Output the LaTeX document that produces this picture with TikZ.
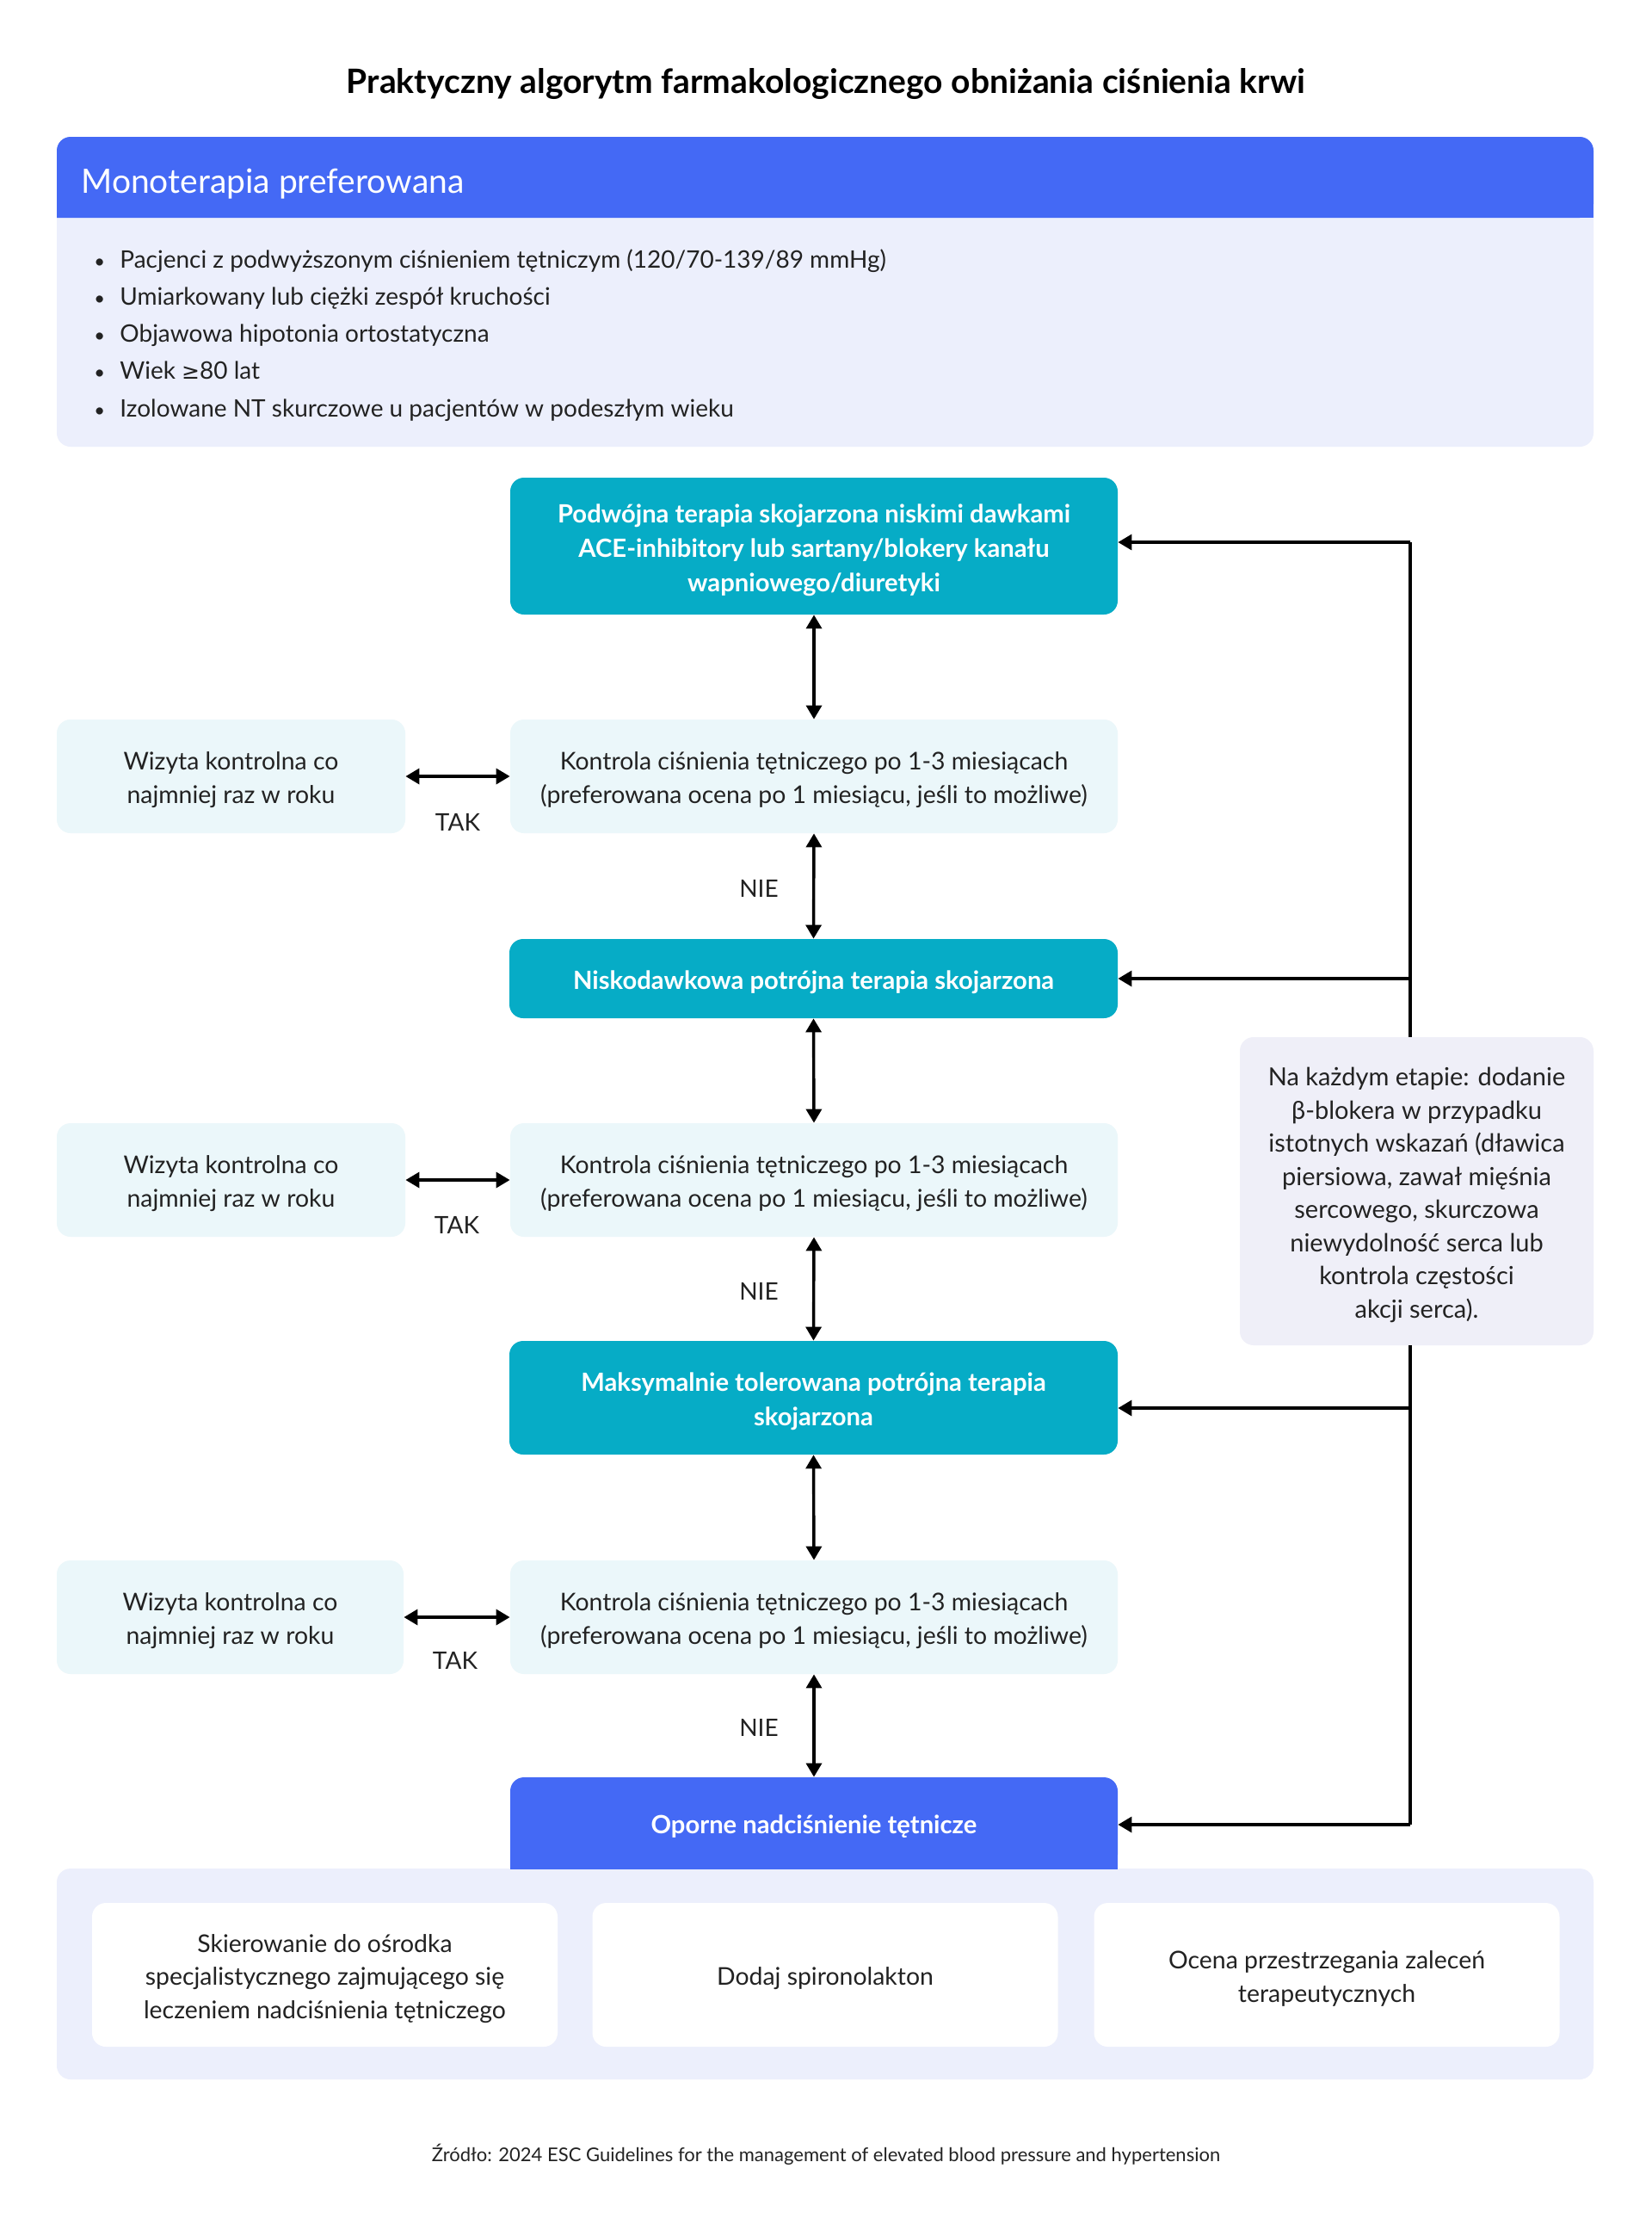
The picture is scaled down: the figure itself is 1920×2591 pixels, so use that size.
\documentclass[tikz,border=0pt]{standalone}
\usepackage{fontspec}
\setmainfont{Lato}
\newfontfamily\symfont{DejaVu Sans}
\usetikzlibrary{arrows.meta}
\definecolor{hblue}{HTML}{4469F5}
\definecolor{tealbox}{HTML}{06ACC6}
\definecolor{lightcyan}{HTML}{EBF7FA}
\definecolor{lavpanel}{HTML}{ECEFFC}
\definecolor{notefill}{HTML}{EFEFF8}
\definecolor{txt}{HTML}{222222}
\tikzset{
  box/.style={rectangle, rounded corners=8pt, inner sep=0pt},
  tealnode/.style={box, fill=tealbox},
  ctrl/.style={box, fill=lightcyan},
  visit/.style={box, fill=lightcyan},
  whitebox/.style={box, fill=white, minimum width=270.5pt, minimum height=83.5pt},
  btxt/.style={inner sep=0pt, align=center, text=txt, font=\fontsize{14.2}{19.3}\selectfont},
  wtxt/.style={btxt, text=white, font=\fontsize{14.6}{20}\selectfont\bfseries},
  conn/.style={line width=1.7pt, draw=black},
  biarrow/.style={conn, {Triangle[length=8pt,width=9pt]}-{Triangle[length=8pt,width=9pt]}},
  onearrow/.style={conn, -{Triangle[length=8pt,width=9pt]}},
  lbl/.style={font=\fontsize{14}{16}\selectfont, text=txt, inner sep=0pt},
  bul/.style={font=\fontsize{14}{16}\selectfont, text=txt, inner sep=0pt, anchor=base west},
}
\newcommand{\btext}[3][btxt]{\node[#1] (#2t) at ([yshift=-2.2pt]#2.center) {#3};}
\begin{document}
\begin{tikzpicture}[x=0.5pt,y=-0.5pt]
\useasboundingbox (0,0) rectangle (1920,2591);
\fill[white] (0,0) rectangle (1920,2591);

% title
\node[font=\fontsize{19.5}{22}\selectfont\bfseries, text=black] (title) at (960,98) {Praktyczny algorytm farmakologicznego obniżania ciśnienia krwi};

% monotherapy panel
\fill[lavpanel, rounded corners=8pt] (66,159) rectangle (1852,519);
\fill[hblue, rounded corners=8pt] (66,253) -- (66,159) -- (1852,159) -- (1852,253) [sharp corners] -- cycle;
\fill[hblue] (66,230) rectangle (1852,253);
\node[anchor=west, text=white, font=\fontsize{19.5}{22}\selectfont, inner sep=0pt] (monohead) at (94,214) {Monoterapia preferowana};

\foreach \yy/\tt [count=\i] in {311/{Pacjenci z podwyższonym ciśnieniem tętniczym (120/70-139/89 mmHg)},
  354/{Umiarkowany lub ciężki zespół kruchości},
  397/{Objawowa hipotonia ortostatyczna},
  440/{Wiek {\symfont\fontsize{12.5}{16}\selectfont ≥}80 lat},
  484/{Izolowane NT skurczowe u pacjentów w podeszłym wieku}} {
  \node[bul] (bt\i) at (139,\yy) {\tt};
  \node[bul, font=\fontsize{11}{16}\selectfont] (bb\i) at (109,\yy) {•};
}

% main column
\node[tealnode, minimum width=353pt, minimum height=79.5pt] (top) at (946,634.5) {};
\btext[wtxt]{top}{Podwójna terapia skojarzona niskimi dawkami\\ACE-inhibitory lub sartany/blokery kanału\\wapniowego/diuretyki}
\node[ctrl, minimum width=353pt, minimum height=66pt] (k1) at (946,902) {};
\btext{k1}{Kontrola ciśnienia tętniczego po 1-3 miesiącach\\(preferowana ocena po 1 miesiącu, jeśli to możliwe)}
\node[visit, minimum width=202.5pt, minimum height=66pt] (w1) at (268.5,902) {};
\btext{w1}{Wizyta kontrolna co\\najmniej raz w roku}
\node[tealnode, minimum width=353.5pt, minimum height=46pt] (n2) at (945.5,1137) {};
\btext[wtxt]{n2}{Niskodawkowa potrójna terapia skojarzona}
\node[ctrl, minimum width=353pt, minimum height=66pt] (k2) at (946,1371) {};
\btext{k2}{Kontrola ciśnienia tętniczego po 1-3 miesiącach\\(preferowana ocena po 1 miesiącu, jeśli to możliwe)}
\node[visit, minimum width=202.5pt, minimum height=66pt] (w2) at (268.5,1371) {};
\btext{w2}{Wizyta kontrolna co\\najmniej raz w roku}
\node[tealnode, minimum width=353.5pt, minimum height=66pt] (n3) at (945.5,1624) {};
\btext[wtxt]{n3}{Maksymalnie tolerowana potrójna terapia\\skojarzona}
\node[ctrl, minimum width=353pt, minimum height=66pt] (k3) at (946,1879) {};
\btext{k3}{Kontrola ciśnienia tętniczego po 1-3 miesiącach\\(preferowana ocena po 1 miesiącu, jeśli to możliwe)}
\node[visit, minimum width=201.5pt, minimum height=66pt] (w3) at (267.5,1879) {};
\btext{w3}{Wizyta kontrolna co\\najmniej raz w roku}

% bottom panel
\fill[lavpanel, rounded corners=8pt] (66,2171) rectangle (1852,2416);
\fill[hblue, rounded corners=8pt] (593,2171) -- (593,2065) -- (1299,2065) -- (1299,2171) [sharp corners] -- cycle;
\fill[hblue] (593,2150) rectangle (1299,2172);
\node[box, minimum width=353pt, minimum height=53pt] (op) at (946,2118) {};
\btext[wtxt]{op}{Oporne nadciśnienie tętnicze}

\node[whitebox] (r1) at (377.5,2294.5) {};
\btext{r1}{Skierowanie do ośrodka\\specjalistycznego zajmującego się\\leczeniem nadciśnienia tętniczego}
\node[whitebox] (r2) at (959,2294.5) {};
\btext{r2}{Dodaj spironolakton}
\node[whitebox] (r3) at (1542,2294.5) {};
\btext{r3}{Ocena przestrzegania zaleceń\\terapeutycznych}

% side note
\node[box, fill=notefill, minimum width=205.5pt, minimum height=179pt] (note) at (1646.5,1384) {};
\btext[btxt, font=\fontsize{14.5}{19.25}\selectfont]{note}{Na każdym etapie: dodanie\\β-blokera w przypadku\\istotnych wskazań (dławica\\piersiowa, zawał mięśnia\\sercowego, skurczowa\\niewydolność serca lub\\kontrola częstości\\akcji serca).}

% connectors: vertical
\draw[biarrow] (top.south) -- (k1.north);
\draw[biarrow] (k1.south) -- (n2.north);
\draw[biarrow] (n2.south) -- (k2.north);
\draw[biarrow] (k2.south) -- (n3.north);
\draw[biarrow] (n3.south) -- (k3.north);
\draw[biarrow] (k3.south) -- (op.north);
% horizontal
\draw[biarrow] (w1.east) -- (k1.west);
\draw[biarrow] (w2.east) -- (k2.west);
\draw[biarrow] (w3.east) -- (k3.west);

% labels
\node[lbl] (tak1) at (532,955) {TAK};
\node[lbl] (tak2) at (531,1423) {TAK};
\node[lbl] (tak3) at (529,1929) {TAK};
\node[lbl] (nie1) at (882,1032) {NIE};
\node[lbl] (nie2) at (882,1500) {NIE};
\node[lbl] (nie3) at (882,2007) {NIE};

% right feedback line
\coordinate (c1) at (1639,630);
\coordinate (c4) at (1639,2120);
\draw[conn] (c1) -- (c1 |- note.north);
\draw[conn] (c4 |- note.south) -- (c4);
\draw[onearrow] (c1) -- (c1 -| top.east);
\draw[onearrow] (c1 |- n2.east) -- (n2.east);
\draw[onearrow] (c4 |- 0,1636) -- (n3.east |- 0,1636);
\draw[onearrow] (c4) -- (c4 -| op.east);

% source
\node[font=\fontsize{11}{12}\selectfont, text=txt] (src) at (960,2503) {Źródło: 2024 ESC Guidelines for the management of elevated blood pressure and hypertension};
\end{tikzpicture}
\end{document}
